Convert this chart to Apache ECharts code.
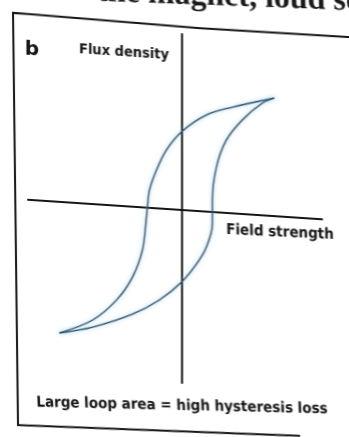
<!DOCTYPE html>
<html>
<head>
<meta charset="utf-8">
<script src="https://cdn.jsdelivr.net/npm/echarts@6/dist/echarts.min.js"></script>
<style>
  html, body { margin: 0; padding: 0; background: #fff; overflow: hidden; }
  #char1 {
    position: absolute;
    left: 0;
    top: -20px;
    width: 349px;
    height: 477px;
    /* the scan is tilted, shear everything round the axis origin */
    transform: skewY(3.8deg);
    transform-origin: 182px 230px;
  }
</style>
</head>
<body>
<div id="char1"></div>
<script>
// descending branch, from positive saturation to negative
const upperH = [5.81, 3.19, 1.56, 0, -0.94, -1.56, -2.0, -2.13, -2.19, -2.44, -3.06, -4.06, -5.56, -7.63]
const upperB = [7.38, 6.64, 6.04, 4.88, 3.69, 2.4, 1.12, 0.05, -0.58, -2.66, -4.39, -5.89, -7.24, -8.18]
// ascending branch, back up to positive saturation
const lowerH = [-7.63, -5.56, -3.06, -1.38, 0, 0.94, 1.56, 1.94, 1.94, 2.19, 2.81, 3.81, 5.06, 5.81]
const lowerB = [-8.18, -7.68, -6.7, -5.71, -4.5, -3.31, -2.21, -0.75, 0.75, 2.83, 4.56, 5.88, 7.02, 7.38]

const labels = {
  panel: 'b',
  yName: 'Flux density',
  xName: 'Field strength',
  caption: 'Large loop area = high hysteresis loss',
  pageText: 'the magnet, loud sound',
}

const pairs = (xs, ys) => xs.map((x, i) => [x, ys[i]])

const chartDom = document.getElementById('char1')
const myChart = echarts.init(chartDom, null, { renderer: 'canvas' })

const ink = '#151515'
const condensed = '"DejaVu Sans Condensed", "Liberation Sans Narrow", sans-serif'
const loopStyle = {
  color: '#34506a',
  width: 1.4,
  shadowColor: 'rgba(130, 200, 230, 0.8)',
  shadowBlur: 4,
}

const option = {
  backgroundColor: '#fff',
  animation: false,
  grid: { left: 28, right: 27, top: 54, bottom: 74 },
  xAxis: {
    type: 'value',
    min: -9.6,
    max: 8.8,
    axisLine: { show: true, onZero: true, lineStyle: { color: ink, width: 2.2 } },
    axisTick: { show: false },
    axisLabel: { show: false },
    splitLine: { show: false },
  },
  yAxis: {
    type: 'value',
    min: -10.8,
    max: 11,
    axisLine: { show: true, onZero: true, lineStyle: { color: ink, width: 2 } },
    axisTick: { show: false },
    axisLabel: { show: false },
    splitLine: { show: false },
  },
  series: [
    {
      type: 'line',
      data: pairs(upperH, upperB),
      smooth: 0.35,
      symbol: 'none',
      lineStyle: loopStyle,
    },
    {
      type: 'line',
      data: pairs(lowerH, lowerB),
      smooth: 0.35,
      symbol: 'none',
      lineStyle: loopStyle,
    },
  ],
  graphic: [
    {
      type: 'polyline',
      shape: { points: [[349, 46], [200, 47], [13, 44], [18, 456], [300, 448]] },
      style: { stroke: ink, lineWidth: 2, fill: 'none' },
    },
    {
      // running text of the page, cut off by the top edge
      type: 'text',
      x: 97,
      y: 18,
      rotation: 0.03,
      style: {
        text: labels.pageText,
        fill: '#1a1a1a',
        font: 'bold 32px "Liberation Serif", serif',
        textAlign: 'left',
        textVerticalAlign: 'middle',
      },
    },
    {
      type: 'text',
      x: 32,
      y: 80,
      style: {
        text: labels.panel,
        fill: ink,
        font: 'bold 20px "DejaVu Sans", sans-serif',
        textAlign: 'center',
        textVerticalAlign: 'middle',
      },
    },
    {
      type: 'text',
      x: 124,
      y: 76,
      style: {
        text: labels.yName,
        fill: ink,
        font: 'bold 14.5px ' + condensed,
        textAlign: 'center',
        textVerticalAlign: 'middle',
      },
    },
    {
      type: 'text',
      x: 280,
      y: 246,
      rotation: 0.02,
      style: {
        text: labels.xName,
        fill: ink,
        font: 'bold 15px ' + condensed,
        textAlign: 'center',
        textVerticalAlign: 'middle',
      },
    },
    {
      type: 'text',
      x: 182,
      y: 426,
      rotation: 0.043,
      style: {
        text: labels.caption,
        fill: ink,
        font: 'bold 15px ' + condensed,
        textAlign: 'center',
        textVerticalAlign: 'middle',
      },
    },
  ],
}

option && myChart.setOption(option)
</script>
</body>
</html>
